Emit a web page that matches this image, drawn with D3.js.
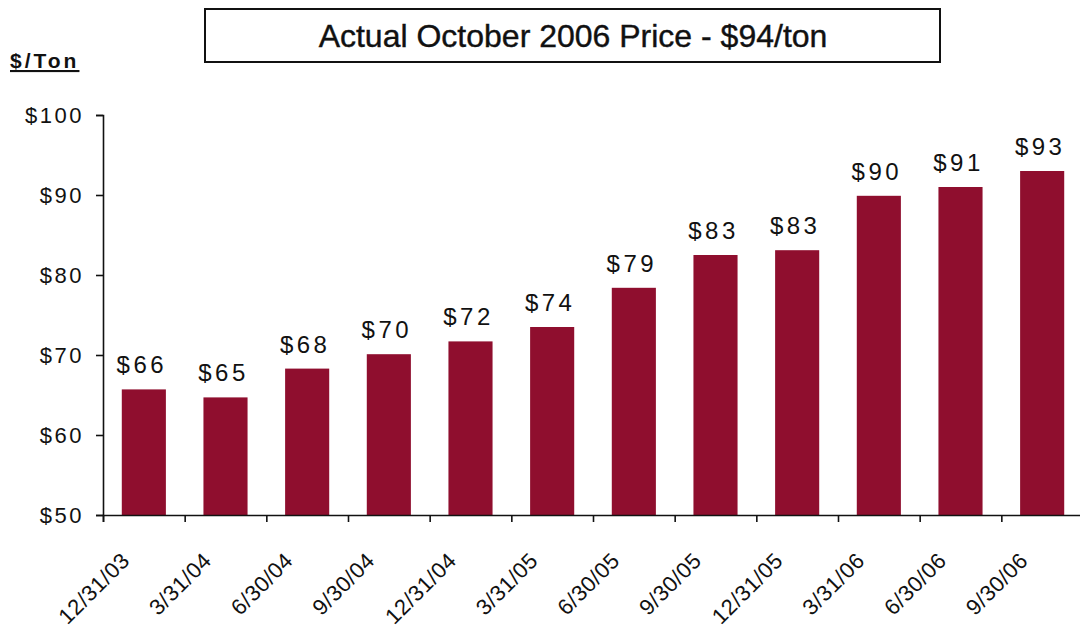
<!DOCTYPE html>
<html>
<head>
<meta charset="utf-8">
<script src="https://cdn.jsdelivr.net/npm/d3@7"></script>
<style>
  body { margin: 0; background: #fff; }
  text { font-family: "Liberation Sans", Arial, sans-serif; fill: #111; }
</style>
</head>
<body>
<div id="chart"></div>
<script>
// data
var quarters = ["12/31/03", "3/31/04", "6/30/04", "9/30/04", "12/31/04", "3/31/05",
                "6/30/05", "9/30/05", "12/31/05", "3/31/06", "6/30/06", "9/30/06"];
var prices = [65.7, 64.7, 68.3, 70.1, 71.7, 73.5, 78.4, 82.5, 83.1, 89.9, 91.0, 93.0];
var priceLabels = ["$66", "$65", "$68", "$70", "$72", "$74", "$79", "$83", "$83", "$90", "$91", "$93"];
var yTicks = [50, 60, 70, 80, 90, 100];

var W = 1080, H = 628;
var margin = { top: 115, right: -3, bottom: 113, left: 103 },
    width = W - margin.left - margin.right,
    height = H - margin.top - margin.bottom;

var root = d3.select("#chart").append("svg")
    .attr("width", W)
    .attr("height", H);

// title box
root.append("rect")
    .attr("x", 205).attr("y", 9)
    .attr("width", 735).attr("height", 53)
    .attr("fill", "#fff")
    .attr("stroke", "#111")
    .attr("stroke-width", 2);
root.append("text")
    .attr("x", 573).attr("y", 47)
    .attr("text-anchor", "middle")
    .style("font-size", "32px")
    .style("stroke", "#111")
    .style("stroke-width", "0.4px")
    .text("Actual October 2006 Price - $94/ton");

// unit label
root.append("text")
    .attr("x", 10).attr("y", 68)
    .style("font-size", "21px")
    .style("font-weight", "bold")
    .style("letter-spacing", "3px")
    .style("text-decoration", "underline")
    .text("$/Ton");

var svg = root.append("g")
    .attr("transform", "translate(" + margin.left + "," + margin.top + ")");

var x = d3.scaleBand()
    .domain(quarters)
    .range([0, width])
    .paddingInner(0.46)
    .paddingOuter(0.23);

var y = d3.scaleLinear()
    .domain([50, 100])
    .range([height, 0]);

// bars
svg.selectAll(".bar")
    .data(quarters)
    .enter().append("rect")
    .attr("class", "bar")
    .attr("x", function (d) { return x(d); })
    .attr("y", function (d, i) { return y(prices[i]); })
    .attr("width", x.bandwidth())
    .attr("height", function (d, i) { return height - y(prices[i]); })
    .attr("fill", "#8f0e2e");

// value labels
svg.selectAll(".val")
    .data(quarters)
    .enter().append("text")
    .attr("class", "val")
    .attr("x", function (d) { return x(d) + x.bandwidth() / 2 - 2; })
    .attr("y", function (d, i) { return y(prices[i]) - 16; })
    .attr("text-anchor", "middle")
    .style("font-size", "24px")
    .style("letter-spacing", "3.5px")
    .text(function (d, i) { return priceLabels[i]; });

// y axis
var yAxis = svg.append("g")
    .call(d3.axisLeft(y).tickValues(yTicks).tickSize(7).tickPadding(12)
        .tickFormat(function (d) { return "$" + d; }));
yAxis.selectAll("text").style("font-size", "22px").style("letter-spacing", "2.5px");
yAxis.selectAll("line, path").attr("stroke", "#111").attr("stroke-width", 1.6);

// x axis with ticks on band edges
var step = x.step();
var edges = quarters.map(function (d, i) { return i * step; });
var xEdge = d3.scaleLinear().domain([0, width]).range([0, width]);
var xAxis = svg.append("g")
    .attr("transform", "translate(0," + height + ")")
    .call(d3.axisBottom(xEdge).tickValues(edges).tickSize(7).tickFormat(""));
xAxis.selectAll("line, path").attr("stroke", "#111").attr("stroke-width", 1.6);

// rotated category labels
svg.selectAll(".xlab")
    .data(quarters)
    .enter().append("text")
    .attr("class", "xlab")
    .attr("transform", function (d, i) {
        return "translate(" + (edges[i] + 28) + "," + (height + 47) + ") rotate(-45)";
    })
    .attr("text-anchor", "end")
    .style("font-size", "22px")
    .style("letter-spacing", "0.5px")
    .text(function (d) { return d; });
</script>
</body>
</html>
